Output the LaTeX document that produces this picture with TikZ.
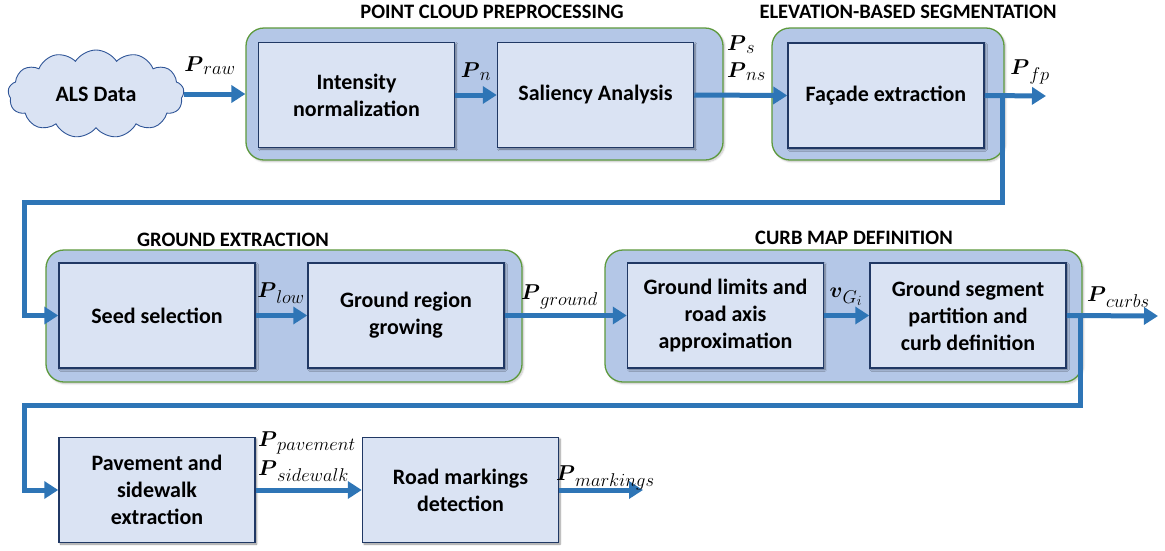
\RequirePackage{fix-cm}
\documentclass[tikz,border=0pt]{standalone}
\usepackage{amsmath}
\usepackage{fontspec}
\setmainfont{Carlito}
\DeclareMathSizes{21}{21.5}{18.5}{14}
\usetikzlibrary{shapes.symbols,arrows.meta,shadows.blur}
\definecolor{arrblue}{HTML}{2E75B6}
\definecolor{grpfill}{HTML}{B4C7E7}
\definecolor{grpline}{HTML}{5E9A3E}
\definecolor{boxfill}{HTML}{DAE3F3}
\definecolor{boxline}{HTML}{203864}
\definecolor{cloudline}{HTML}{2F5597}
\begin{document}
\begin{tikzpicture}[x=1pt,y=-1pt,
  grp/.style={draw=grpline, line width=1.3pt, fill=grpfill, rounded corners=18pt,
    minimum height=132pt, inner sep=0pt,
    blur shadow={shadow xshift=1.5pt, shadow yshift=-1.5pt, shadow opacity=25, shadow blur steps=6}},
  stepbox/.style={draw=boxline, line width=1.5pt, fill=boxfill, minimum width=196pt,
    minimum height=105pt, align=center, inner sep=2pt,
    font=\fontsize{22}{27}\selectfont\bfseries,
    blur shadow={shadow xshift=1.5pt, shadow yshift=-1.5pt, shadow opacity=45, shadow blur steps=6}},
  ttl/.style={font=\fontsize{20.5}{24}\selectfont\bfseries},
  lbl/.style={font=\fontsize{21}{25}\selectfont, inner sep=0pt},
  arr/.style={draw=arrblue, line width=5pt, -{Triangle[length=14pt,width=17pt]}},
]
\useasboundingbox (0,0) rectangle (1165,550);

% groups
\node[grp, minimum width=477pt] (g1) at (484.5,94) {};
\node[grp, minimum width=232pt] (g2) at (888,94) {};
\node[grp, minimum width=476pt] (g3) at (284,316) {};
\node[grp, minimum width=477pt] (g4) at (843.5,316) {};

% titles
\node[ttl] (t1) at (492,12) {POINT CLOUD PREPROCESSING};
\node[ttl] (t2) at (908,12) {ELEVATION-BASED SEGMENTATION};
\node[ttl] (t3) at (233,240) {GROUND EXTRACTION};
\node[ttl] (t4) at (854,238) {CURB MAP DEFINITION};

% cloud
\node[cloud, cloud puffs=13, cloud puff arc=115, aspect=2.1, draw=cloudline, line width=0.9pt,
  fill=boxfill, minimum width=176pt, minimum height=88pt, inner sep=0pt,
  font=\fontsize{22}{26}\selectfont\bfseries] (als) at (96,94) {ALS Data};

% boxes
\node[stepbox] (int) at (356.5,95) {Intensity\\normalization};
\node[stepbox] (sal) at (595.5,95) {Saliency Analysis};
\node[stepbox] (fac) at (886,95.5) {Façade extraction};
\node[stepbox] (seed) at (157,315.5) {Seed selection};
\node[stepbox] (grow) at (406,315.5) {Ground region\\growing};
\node[stepbox] (lim) at (725.5,315.5) {Ground limits and\\road axis\\approximation};
\node[stepbox] (seg) at (968,315.5) {Ground segment\\partition and\\curb definition};
\node[stepbox] (pav) at (157,490) {Pavement and\\sidewalk\\extraction};
\node[stepbox] (road) at (460.5,490) {Road markings\\detection};

% free ends and bends
\coordinate (pfpend) at (1046,96);
\coordinate (fb1a) at (1002,202);
\coordinate (fb1b) at (24,202);
\coordinate (pcend) at (1158,316);
\coordinate (fb2a) at (1080,405);
\coordinate (fb2b) at (24,405);
\coordinate (pmend) at (643,490);

% connectors
\draw[arr] (fac.east) -- (fac.east -| fb1a) -- (fb1a) -- (fb1b) -- (fb1b |- seed.west) -- (seed.west);
\draw[arr] (seg.east) -- (seg.east -| fb2a) -- (fb2a) -- (fb2b) -- (fb2b |- pav.west) -- (pav.west);
\draw[arr] (als.east) -- (als.east -| g1.west);
\draw[arr] (int.east) -- (sal.west);
\draw[arr] (sal.east) -- (fac.west);
\draw[arr] (fac.east) -- (pfpend);
\draw[arr] (seed.east) -- (grow.west);
\draw[arr] (grow.east) -- (lim.west);
\draw[arr] (lim.east) -- (seg.west);
\draw[arr] (seg.east) -- (pcend);
\draw[arr] (pav.east) -- (road.west);
\draw[arr] (road.east) -- (pmend);

% labels
\node[lbl] (lraw) at (210,66) {$\boldsymbol{P}_{raw}$};
\node[lbl] (ln) at (476,72) {$\boldsymbol{P}_{n}$};
\node[lbl, anchor=west] (ls) at (727,45) {$\boldsymbol{P}_{s}$};
\node[lbl, anchor=west] (lns) at (727,72) {$\boldsymbol{P}_{ns}$};
\node[lbl] (lfp) at (1030,72) {$\boldsymbol{P}_{fp}$};
\node[lbl] (llow) at (281,293) {$\boldsymbol{P}_{low}$};
\node[lbl, anchor=west] (lground) at (521,297) {$\boldsymbol{P}_{ground}$};
\node[lbl] (lv) at (846,297) {$\boldsymbol{v}_{G_i}$};
\node[lbl, anchor=west] (lcurbs) at (1087,297) {$\boldsymbol{P}_{curbs}$};
\node[lbl, anchor=west] (lpave) at (258,443) {$\boldsymbol{P}_{pavement}$};
\node[lbl, anchor=west] (lside) at (258,471) {$\boldsymbol{P}_{sidewalk}$};
\node[lbl, anchor=west] (lmark) at (556,478) {$\boldsymbol{P}_{markings}$};
\end{tikzpicture}
\end{document}
